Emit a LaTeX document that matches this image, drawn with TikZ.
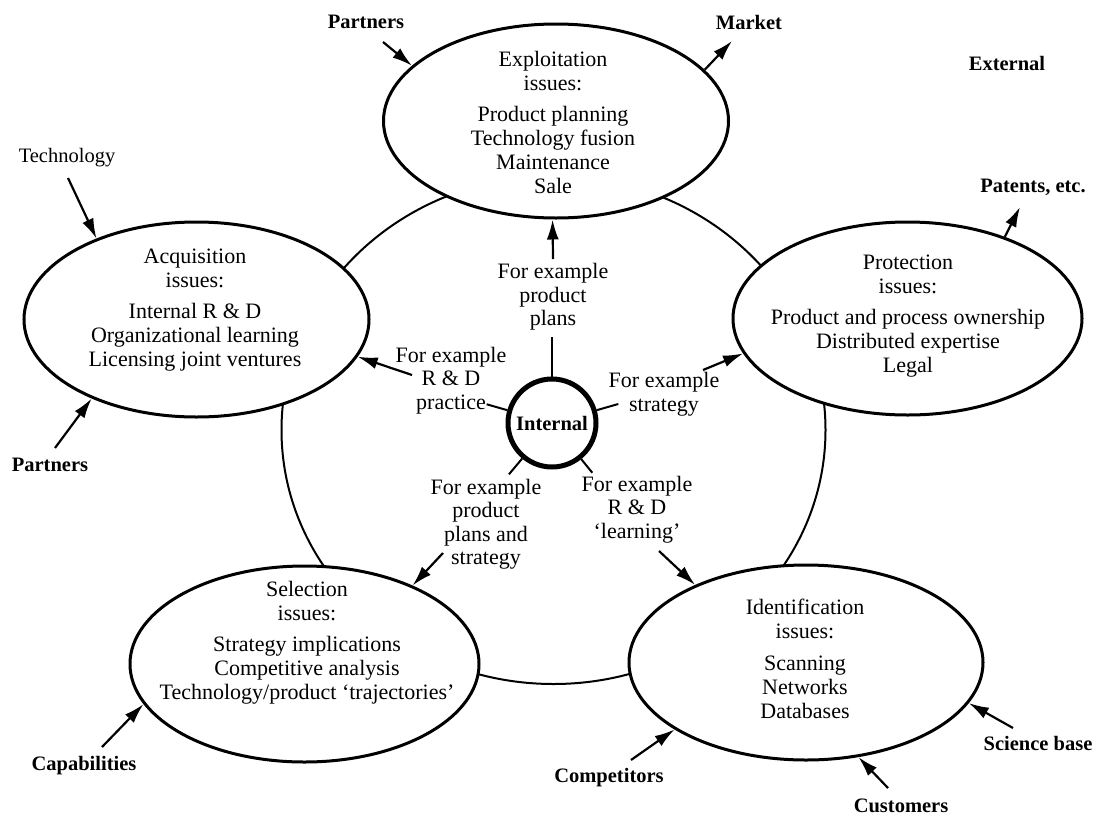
\documentclass[tikz,border=0pt]{standalone}
\usepackage{fontspec}
\setmainfont{Liberation Serif}
\usetikzlibrary{shapes.geometric,arrows.meta,calc}

\begin{document}
\begin{tikzpicture}[x=1pt,y=-1pt,
  issue/.style={draw, ellipse, line width=3pt, fill=white, inner sep=0pt},
  issuetext/.style={align=center, font=\fontsize{22}{24}\selectfont, inner sep=0pt},
  example/.style={align=center, font=\fontsize{22}{23.5}\selectfont, inner sep=1pt},
  outside/.style={font=\bfseries\fontsize{20.5}{22}\selectfont, inner sep=1pt,
                  text height=14pt, text depth=4pt},
  outsidelight/.style={outside, font=\fontsize{20.5}{22}\selectfont},
  arr/.style={line width=2.2pt, -{Latex[length=20pt,width=12pt]}},
  spoke/.style={line width=2pt},
  cycleline/.style={line width=2pt}]

% canvas
\path[fill=white] (0,0) rectangle (1095,817);
\useasboundingbox (0,0) rectangle (1095,817);

% the cycle linking the five issue areas
\node[draw, ellipse, cycleline, inner sep=0pt,
      minimum width=544pt, minimum height=508pt] (cycle) at (553.5,430) {};

% issue areas
\node[issue, minimum width=345pt, minimum height=194pt] (expl)  at (556,121) {};
\node[issue, minimum width=345pt, minimum height=195pt] (acq)   at (196.5,319.5) {};
\node[issue, minimum width=349pt, minimum height=193pt] (prot)  at (907.5,318.5) {};
\node[issue, minimum width=349pt, minimum height=196pt] (sel)   at (304.5,664) {};
\node[issue, minimum width=354pt, minimum height=195pt] (ident) at (806,662.5) {};

\node[issuetext] (expl-t) at (553,125.5)
  {\strut Exploitation\\issues:\\[7pt]Product planning\\Technology fusion\\Maintenance\\Sale\strut};
\node[issuetext] (acq-t) at (195,310)
  {\strut Acquisition\\issues:\\[7pt]Internal R \& D\\Organizational learning\\Licensing joint ventures\strut};
\node[issuetext] (prot-t) at (908,316.5)
  {\strut Protection\\issues:\\[7pt]Product and process ownership\\Distributed expertise\\Legal\strut};
\node[issuetext] (sel-t) at (307,643)
  {\strut Selection\\issues:\\[7pt]Strategy implications\\Competitive analysis\\Technology/product ‘trajectories’\strut};
\node[issuetext] (ident-t) at (805,662)
  {\strut Identification\\issues:\\[8pt]Scanning\\Networks\\Databases\strut};

% the internal core
\node[draw, circle, line width=5pt, minimum size=88pt, inner sep=0pt,
      font=\bfseries\fontsize{20.5}{22}\selectfont] (internal) at (552,423) {Internal};

% examples of internal links
\node[example] (ex-top) at (553,297.5) {\strut For example\\product\\plans\strut};
\node[example] (ex-left) at (451,381) {\strut For example\\R \& D\\practice\strut};
\node[example] (ex-right) at (664,395) {\strut For example\\strategy\strut};
\node[example] (ex-ll) at (486,525) {\strut For example\\product\\plans and\\strategy\strut};
\node[example] (ex-lr) at (637,510) {\strut For example\\R \& D\\‘learning’\strut};

% spokes from the core
\coordinate (sp-top)   at ($(internal.center)+(90:86pt)$);
\coordinate (sp-left)  at ($(internal.center)+(164:68pt)$);
\coordinate (sp-right) at ($(internal.center)+(16:69pt)$);
\coordinate (sp-ll)    at ($(internal.center)+(230:67pt)$);
\coordinate (sp-lr)    at ($(internal.center)+(309:64pt)$);
\draw[spoke] (internal.90)  -- (sp-top);
\draw[spoke] (internal.164) -- (sp-left);
\draw[spoke] (internal.16)  -- (sp-right);
\draw[spoke] (internal.230) -- (sp-ll);
\draw[spoke] (internal.309) -- (sp-lr);

% arrows from the examples to the issue areas
\coordinate (t-top)   at (553,259);
\coordinate (t-left)  at (412,375);
\coordinate (t-right) at (703,370);
\coordinate (t-ll)    at (443,553);
\coordinate (t-lr)    at (659,551);
\draw[arr] (t-top)   -- (expl.268);
\draw[arr] (t-left)  -- (acq.347.1);
\draw[arr] (t-right) -- (prot.192.7);
\draw[arr] (t-ll)    -- (sel.36);
\draw[arr] (t-lr)    -- (ident.145.5);

% external influences
\node[outside] (partners-top) at (366,23) {Partners};
\node[outside] (market) at (749,24) {Market};
\node[outside] (external) at (1007,65) {External};
\node[outsidelight] (technology) at (67,157) {Technology};
\node[outside] (patents) at (1033,187) {Patents, etc.};
\node[outside] (partners-low) at (50,466) {Partners};
\node[outside] (capabilities) at (84,765) {Capabilities};
\node[outside] (competitors) at (609,777) {Competitors};
\node[outside] (customers) at (901,807) {Customers};
\node[outside] (science) at (1038,745) {Science base};

\coordinate (t-partners-top) at (383,42);
\coordinate (h-market)       at (732,41);
\coordinate (t-technology)   at (68,178);
\coordinate (h-patents)      at (1020,207);
\coordinate (t-partners-low) at (55,448);
\coordinate (t-capabilities) at (102,747);
\coordinate (t-competitors)  at (631,760);
\coordinate (t-customers)    at (888,788);
\coordinate (t-science)      at (1013,728);

\draw[arr] (t-partners-top) -- (expl.159.4);
\draw[arr] (expl.19.8) -- (h-market);
\draw[arr] (t-technology) -- (acq.141.2);
\draw[arr] (prot.40.5) -- (h-patents);
\draw[arr] (t-partners-low) -- (acq.217.6);
\draw[arr] (t-capabilities) -- (sel.194.4);
\draw[arr] (t-competitors) -- (ident.207.4);
\draw[arr] (t-customers) -- (ident.299);
\draw[arr] (t-science) -- (ident.346.4);
\end{tikzpicture}
\end{document}
